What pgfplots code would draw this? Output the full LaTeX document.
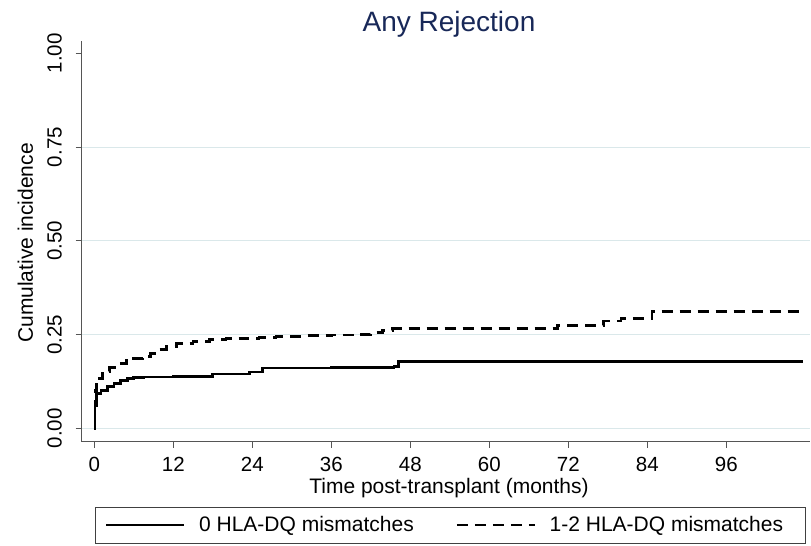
\documentclass[border=0pt]{standalone}
\usepackage{fontspec}
\setmainfont{Liberation Sans}
\usepackage{pgfplots}
\pgfplotsset{compat=1.18}
\definecolor{titlec}{RGB}{24,40,88}
\definecolor{gridc}{RGB}{218,232,234}
\definecolor{axc}{RGB}{85,85,85}
\begin{document}
\begin{tikzpicture}
\useasboundingbox (-81.7bp,-104.3bp) rectangle (729.3bp,441.7bp);
\begin{axis}[
  at={(0,0)}, anchor=south west,
  scale only axis, width=728.3bp, height=400.7bp,
  xmin=-1.91, xmax=108.7, ymin=-0.0357, ymax=1.0328,
  axis x line*=bottom, axis y line*=left,
  axis line style={draw=axc, line width=0.9bp, -},
  xtick={0,12,24,36,48,60,72,84,96},
  ytick={0,0.25,0.5,0.75}, yticklabels={0.00,0.25,0.50,0.75},
  extra y ticks={1}, extra y tick labels={1.00},
  extra y tick style={grid=none},
  ymajorgrids, grid style={draw=gridc, line width=0.9bp},
  tick align=outside, major tick length=6bp,
  tick style={draw=axc, line width=0.9bp},
  /pgf/number format/assume math mode=true,
  xticklabel style={font=\fontsize{20.5bp}{23bp}\selectfont, anchor=north, inner sep=0pt, yshift=-9bp},
  yticklabel style={font=\fontsize{20.5bp}{23bp}\selectfont, xshift=-14bp, rotate=90, anchor=base, inner sep=0pt},
  legend style={at={(axis description cs:0.032,-0.2079)}, anchor=west, draw=none, fill=none,
    inner sep=0pt, legend columns=2, font=\fontsize{21bp}{24bp}\selectfont,
    nodes={inner sep=0pt},
    /tikz/every odd column/.append style={column sep=13.7bp},
    /tikz/every even column/.append style={column sep=42bp}},
  legend image code/.code={\draw[#1, line width=2.2bp] (0bp,0bp) -- (78bp,0bp);},
]
\addplot[const plot, black, line width=2.7bp] coordinates {
(0,0) (0.1,0.06) (0.3,0.092) (1,0.100) (2,0.112) (3,0.120) (4,0.127) (5,0.132)
(6,0.135) (7.5,0.137) (12,0.138) (18,0.145) (23.6,0.150) (25.6,0.161)
(36,0.162) (45.5,0.165) (46.2,0.179) (107.6,0.179)
};
\addlegendentry{0 HLA-DQ mismatches}
\addplot[const plot, black, line width=2.7bp, dash pattern=on 11bp off 7bp] coordinates {
(0,0) (0.1,0.10) (0.3,0.133) (1.3,0.152) (2.3,0.163) (3.5,0.172) (4.9,0.181)
(6,0.186) (7.4,0.192) (8.5,0.200) (9.9,0.210) (11,0.218) (12.5,0.226)
(15,0.232) (17.5,0.237) (20,0.239) (22.6,0.240) (25,0.243) (27.6,0.245)
(32,0.247) (36,0.249) (40,0.251) (42,0.255) (43.8,0.261) (45.3,0.266)
(70.4,0.275) (77.3,0.286) (80,0.292) (84.7,0.311) (107.6,0.311)
};
\addlegendentry{1-2 HLA-DQ mismatches}
\end{axis}
\node[anchor=base, text=titlec, font=\fontsize{28bp}{32bp}\selectfont] at (367.3bp,410bp) {Any Rejection};
\node[anchor=base, font=\fontsize{21bp}{24bp}\selectfont] at (367.3bp,-51.3bp) {Time post-transplant (months)};
\node[anchor=base, rotate=90, font=\fontsize{21bp}{24bp}\selectfont] at (-48.7bp,198.7bp) {Cumulative incidence};
\draw[draw=black!75, line width=0.9bp] (13.3bp,-65.3bp) rectangle (723.3bp,-101.3bp);
\end{tikzpicture}
\end{document}
